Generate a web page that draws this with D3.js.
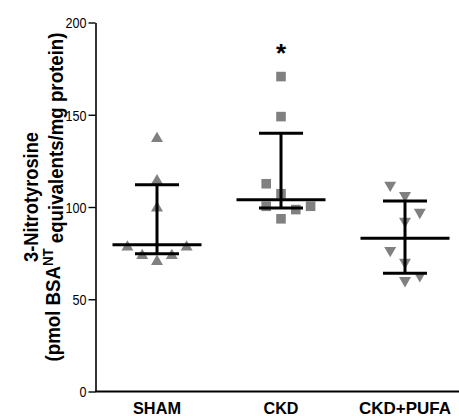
<!DOCTYPE html>
<html><head><meta charset="utf-8">
<script src="https://cdn.jsdelivr.net/npm/d3@7/dist/d3.min.js"></script>
<style>
body{margin:0;background:#fff;}
svg{display:block;}
</style></head>
<body>
<svg id="c" width="459" height="416"></svg>
<script>
const categories = ["SHAM", "CKD", "CKD+PUFA"];
const shapes = ["triangle-up", "square", "triangle-down"];
// individual values per group
const shamValues = [137.6, 114.7, 100, 78.8, 78.8, 74.2, 74.2, 71];
const ckdValues = [170.7, 149, 112.6, 107.2, 100.4, 98.6, 100.4, 93.6];
const pufaValues = [111.3, 105.7, 96.6, 91.8, 75.9, 69.5, 62.3, 59.6];
// scatter column (spread slot) of each point
const shamSlots = [0, 0, 0, -2, 2, -1, 1, 0];
const ckdSlots = [0, 0, -1, 0, -1, 1, 2, 0];
const pufaSlots = [-1, 0, 1, 0, -1, 0, 1, 0];
// median and interquartile range
const medians = [79.6, 103.9, 83.1];
const lowers = [74.6, 99.4, 64.1];
const uppers = [112, 140, 103.2];
const yTicks = [0, 50, 100, 150, 200];
const significance = ["", "*", ""];

const groups = [shamValues, ckdValues, pufaValues];
const slots = [shamSlots, ckdSlots, pufaSlots];

const FONT = "'Liberation Sans',Arial,sans-serif";
const svg = d3.select("#c");
const x = d3.scaleBand().domain(categories).range([95, 467]).padding(0);
const y = d3.scaleLinear().domain([0, 200]).range([391.5, 22.5]);
const cx = c => x(c) + x.bandwidth() / 2;
const slotW = 14.8;
const grey = "#808080";

// axes
const yAxis = d3.axisLeft(y).tickValues(yTicks).tickSize(7).tickSizeOuter(0).tickPadding(2);
const gy = svg.append("g").attr("transform", "translate(95.5,0)").call(yAxis);
gy.select(".domain").attr("stroke", "#000").attr("stroke-width", 1.6);
gy.selectAll(".tick line").attr("stroke", "#000").attr("stroke-width", 1.4);
gy.selectAll(".tick text").attr("fill", "#000")
  .style("font-family", FONT).style("font-size", "15px").attr("dy", "0.36em")
  .attr("textLength", d => String(d).length * 7).attr("lengthAdjust", "spacingAndGlyphs");

svg.append("line").attr("x1", 95).attr("x2", 459).attr("y1", y(0)).attr("y2", y(0))
  .attr("stroke", "#000").attr("stroke-width", 1.8);

// category labels
const catW = {"SHAM": 48, "CKD": 35, "CKD+PUFA": 92};
svg.selectAll(".cat").data(categories).join("text")
  .attr("x", d => cx(d)).attr("y", 413.5)
  .attr("text-anchor", "middle")
  .style("font-family", FONT).style("font-weight", "bold").style("font-size", "17px")
  .attr("textLength", d => catW[d]).attr("lengthAdjust", "spacingAndGlyphs")
  .text(d => d);

// y title
const title = svg.append("g").attr("transform", "translate(0,197) rotate(-90)");
title.append("text").attr("x", 0).attr("y", 37.5).attr("text-anchor", "middle")
  .style("font-family", FONT).style("font-weight", "bold").style("font-size", "20.5px")
  .attr("textLength", 130).attr("lengthAdjust", "spacingAndGlyphs")
  .text("3-Nitrotyrosine");
const t2 = title.append("text").attr("x", 0).attr("y", 60).attr("text-anchor", "middle")
  .style("font-family", FONT).style("font-weight", "bold").style("font-size", "20.5px");
t2.append("tspan").text("(pmol BSA");
t2.append("tspan").attr("dy", "-0.45em").style("font-size", "14.5px").text("NT");
t2.append("tspan").attr("dy", "0.45em").text(" equivalents/mg protein)");
const len2 = t2.node().getComputedTextLength();
if (len2 > 0) t2.attr("transform", `scale(${329 / len2},1)`);

// points
const sym = {"triangle-up": d3.symbolTriangle, "square": d3.symbolSquare, "triangle-down": d3.symbolTriangle};
categories.forEach((c, i) => {
  const pts = groups[i].map((v, j) => ({v, s: slots[i][j]}));
  const size = shapes[i] === "square" ? 92 : 62;
  const rot = shapes[i] === "triangle-down" ? 180 : 0;
  svg.append("g").selectAll("path").data(pts).join("path")
    .attr("d", d3.symbol().type(sym[shapes[i]]).size(size))
    .attr("transform", d => `translate(${cx(c) + d.s * slotW},${y(d.v) + (shapes[i]==="triangle-up"?1:shapes[i]==="triangle-down"?-1:0)}) rotate(${rot})`)
    .attr("fill", grey);
});

// median + IQR bars
categories.forEach((c, i) => {
  const g = svg.append("g").attr("stroke", "#000").attr("stroke-width", 3);
  const X = cx(c);
  g.append("line").attr("x1", X).attr("x2", X).attr("y1", y(lowers[i])).attr("y2", y(uppers[i]));
  g.append("line").attr("x1", X - 22).attr("x2", X + 22).attr("y1", y(lowers[i])).attr("y2", y(lowers[i]));
  g.append("line").attr("x1", X - 22).attr("x2", X + 22).attr("y1", y(uppers[i])).attr("y2", y(uppers[i]));
  g.append("line").attr("x1", X - 44.5).attr("x2", X + 44.5).attr("y1", y(medians[i])).attr("y2", y(medians[i]));
});

// significance marker
svg.selectAll(".sig").data(categories).join("text")
  .attr("x", d => cx(d)).attr("y", 62).attr("text-anchor", "middle")
  .style("font-family", FONT).style("font-weight", "bold").style("font-size", "26px")
  .text((d, i) => significance[i]);
</script>
</body></html>
